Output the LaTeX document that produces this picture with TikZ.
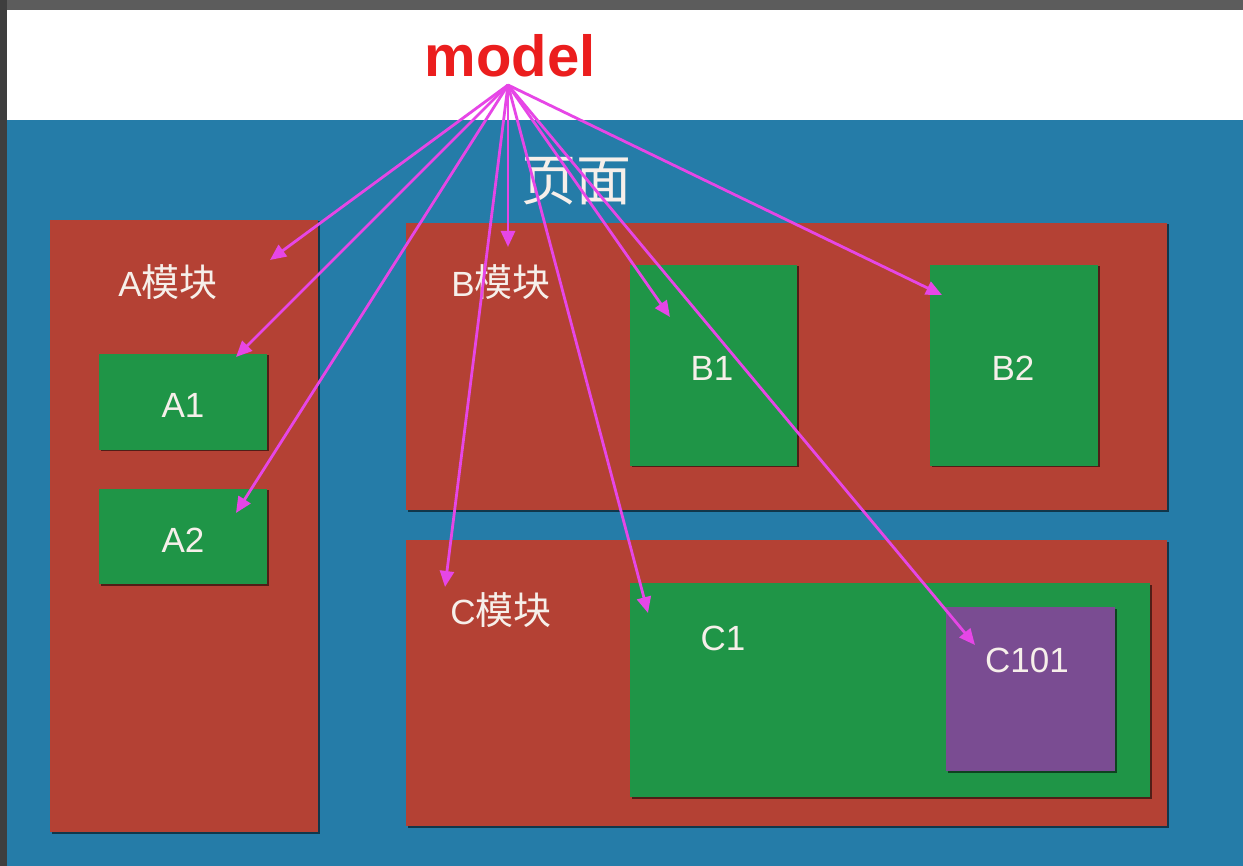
\documentclass[tikz,border=0pt]{standalone}
\usepackage{fontspec}
\setmainfont{Liberation Sans}
\newfontfamily\cjk{Noto Sans CJK SC}
\usetikzlibrary{arrows.meta,shadows}

\definecolor{frame}{HTML}{3E3E3E}
\definecolor{frametop}{HTML}{5C5C5C}
\definecolor{pageblue}{HTML}{257CA8}
\definecolor{modred}{HTML}{B44134}
\definecolor{partgreen}{HTML}{1F9547}
\definecolor{subpurple}{HTML}{7A4C92}
\definecolor{modelred}{HTML}{EB1E1E}
\definecolor{linkpink}{HTML}{E646E6}
\definecolor{tagwhite}{HTML}{F6EFEA}

\begin{document}
\begin{tikzpicture}[x=1pt,y=-1pt,
    box/.style={inner sep=0pt, drop shadow={shadow xshift=1.5pt, shadow yshift=-1.5pt, opacity=0.55, fill=black}},
    module/.style={box, fill=modred},
    part/.style={box, fill=partgreen},
    subpart/.style={box, fill=subpurple},
    tag/.style={text=tagwhite, inner sep=0pt, font=\fontsize{35}{40}\selectfont},
    link/.style={draw=linkpink, line width=2.8pt, -{Triangle[length=16pt,width=14pt]}}]
\useasboundingbox (0,0) rectangle (1243,866);

\fill[frame] (0,0) rectangle (1243,866);
\fill[frametop] (7,0) rectangle (1243,10);
\fill[white] (7,10) rectangle (1243,120);
\fill[pageblue] (7,120) rectangle (1243,866);

\node[text=modelred, font=\fontsize{58}{64}\selectfont\bfseries] (model) at (510,56) {model};
\node[tag, font=\fontsize{55}{60}\selectfont\cjk] (page) at (576,181) {页面};

\node[module, minimum width=268pt, minimum height=612pt] (A) at (184,526) {};
\node[module, minimum width=761pt, minimum height=287pt] (B) at (786.5,366.5) {};
\node[module, minimum width=761pt, minimum height=286pt] (C) at (786.5,683) {};

\node[tag] (Atag) at (168,282) {A{\cjk\fontsize{38}{40}\selectfont 模块}};
\node[tag] (Btag) at (501,282) {B{\cjk\fontsize{38}{40}\selectfont 模块}};
\node[tag] (Ctag) at (501,610) {C{\cjk\fontsize{38}{40}\selectfont 模块}};

\node[part, minimum width=168pt, minimum height=96pt] (A1) at (183,402) {};
\node[part, minimum width=168pt, minimum height=95pt] (A2) at (183,536.5) {};
\node[part, minimum width=167pt, minimum height=201pt] (B1) at (713.5,365.5) {};
\node[part, minimum width=168pt, minimum height=201pt] (B2) at (1014,365.5) {};
\node[part, minimum width=520pt, minimum height=214pt] (C1) at (890,690) {};
\node[subpart, minimum width=169pt, minimum height=164pt] (C101) at (1030.5,689) {};

\node[tag] (A1tag) at (183,405) {A1};
\node[tag] (A2tag) at (183,540) {A2};
\node[tag] (B1tag) at (712,368) {B1};
\node[tag] (B2tag) at (1013,368) {B2};
\node[tag] (C1tag) at (723,638) {C1};
\node[tag] (C101tag) at (1027,660) {C101};

\coordinate (src) at (508,85);
\coordinate (toA) at (270,260);
\coordinate (toA1) at (236,357);
\coordinate (toA2) at (236,513);
\coordinate (toB) at (508,247);
\coordinate (toC) at (445,587);
\coordinate (toC1) at (648,613);
\coordinate (toB1) at (670,317);
\coordinate (toB2) at (942,295);
\coordinate (toC101) at (975,645);

\foreach \t in {toA,toA1,toA2,toB,toC,toC1,toB1,toB2,toC101}
  \draw[link] (src) -- (\t);
\end{tikzpicture}
\end{document}
